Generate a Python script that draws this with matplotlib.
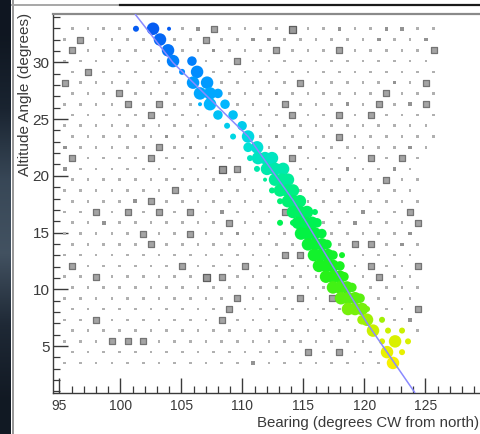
import numpy as np
import matplotlib
matplotlib.use("Agg")
import matplotlib.pyplot as plt
from matplotlib.colors import LinearSegmentedColormap, Normalize
from matplotlib.lines import Line2D
from matplotlib.ticker import MultipleLocator, FixedLocator

plt.rcParams['font.family'] = ['Liberation Sans', 'DejaVu Sans']

# ---- background histogram: lattice of measured (bearing, altitude) cells ----
row_alt = [32.96, 32.01, 31.06, 30.11, 29.16, 28.21, 27.26, 26.31, 25.36, 24.41,
           23.46, 22.51, 21.56, 20.61, 19.66, 18.71, 17.76, 16.81, 15.86, 14.91,
           13.96, 13.01, 12.06, 11.11, 10.16, 9.21, 8.26, 7.31, 6.36, 5.41,
           4.46, 3.51]
even_cols = [96.07, 97.36, 98.64, 99.93, 101.22, 102.51, 103.79, 105.08, 106.37, 107.65,
             108.94, 110.23, 111.51, 112.80, 114.09, 115.38, 116.66, 117.95, 119.24, 120.52,
             121.81, 123.10, 124.38, 125.67]
odd_cols = [95.44, 96.73, 98.01, 99.30, 100.59, 101.88, 103.16, 104.45, 105.74, 107.02,
            108.31, 109.60, 110.88, 112.17, 113.46, 114.75, 116.03, 117.32, 118.61, 119.89,
            121.18, 122.47, 123.75, 125.04]
# cell content per row (0 = empty, 1..4 = increasing counts)
row_counts = [
    "111100012311114112112211",
    "131111011311221111112112",
    "311111011211131113111113",
    "111111100113111111111111",
    "131111100111111111111111",
    "311111110011111311111213",
    "111311110011121111113111",
    "111131311001113111213123",
    "111113111001113113131111",
    "111111111100111111111111",
    "111111211100121113111111",
    "211111312110011211111121",
    "311113111110003111131310",
    "211111111143000111211210",
    "111111111111000111113110",
    "111111131111100111111110",
    "111123111111100111111110",
    "113131313121113001121130",
    "112111111131100011211130",
    "111113113112111001111120",
    "111113111111111001331210",
    "111111111111113300011110",
    "311111131113111100131130",
    "113111111431111110013110",
    "111111111111111110011110",
    "111111111113111313001110",
    "111111111131111111001130",
    "113111111131111111100120",
    "111111111111111111100010",
    "111333111111111111110000",
    "111111111111111313110000",
    "111111111111211111111000",
]

# ---- tracked points along the path (bearing, altitude, count level) ----
track_bearing = [101.28, 102.68, 103.99, 103.25, 103.91, 104.32, 105.87, 105.06, 106.29,
                 105.96, 107.11, 106.53, 107.35, 108.00, 106.53, 107.35, 108.58,
                 108.00, 109.24, 108.75, 109.98, 109.24, 110.47, 110.47, 111.21,
                 110.63, 111.29, 111.86, 112.43, 111.20, 112.02, 112.68, 113.34,
                 111.86, 112.68, 113.25, 113.74, 112.43, 113.09, 113.66, 114.15,
                 113.09, 113.74, 114.23, 114.72, 114.15, 114.72, 115.30, 115.95,
                 113.09, 114.15, 114.56, 115.14, 115.71, 116.12,
                 114.81, 115.38, 115.95, 116.52, 115.38, 115.95, 116.52, 116.94,
                 115.87, 116.45, 117.02, 117.43, 118.17, 116.28, 116.86, 117.43, 118.00,
                 116.86, 117.43, 118.00, 118.33, 117.43, 118.00, 118.57, 118.98,
                 118.09, 118.66, 119.24, 119.65, 118.66, 119.24, 119.81, 120.22,
                 119.81, 120.22, 121.45, 120.71, 121.94, 123.09,
                 121.45, 122.52, 123.58, 121.86, 123.09, 122.35]
track_alt = [32.96, 32.96, 32.96, 32.01, 31.06, 30.11, 30.11, 29.16, 29.16,
             28.21, 28.21, 27.26, 27.26, 27.26, 26.31, 26.31, 26.31,
             25.36, 25.36, 24.41, 24.41, 23.46, 23.46, 22.51, 22.51,
             21.56, 21.56, 21.56, 21.56, 20.61, 20.61, 20.61, 20.61,
             19.66, 19.66, 19.66, 19.66, 18.71, 18.71, 18.71, 18.71,
             17.76, 17.76, 17.76, 17.76, 16.81, 16.81, 16.81, 16.81,
             15.86, 15.86, 15.86, 15.86, 15.86, 15.86,
             14.91, 14.91, 14.91, 14.91, 13.96, 13.96, 13.96, 13.96,
             13.01, 13.01, 13.01, 13.01, 13.01, 12.06, 12.06, 12.06, 12.06,
             11.11, 11.11, 11.11, 11.11, 10.16, 10.16, 10.16, 10.16,
             9.21, 9.21, 9.21, 9.21, 8.26, 8.26, 8.26, 8.26,
             7.31, 7.31, 7.31, 6.36, 6.36, 6.36,
             5.41, 5.41, 5.41, 4.46, 4.46, 3.51]
track_level = [2, 4, 1, 4, 4, 4, 3, 2, 4,
               4, 4, 4, 4, 3, 1, 4, 3,
               3, 3, 2, 3, 2, 4, 3, 4,
               2, 4, 4, 4, 2, 4, 4, 4,
               1, 4, 4, 4, 2, 4, 4, 4,
               2, 4, 4, 4, 4, 4, 4, 2,
               2, 2, 4, 4, 4, 3,
               4, 4, 4, 3, 4, 4, 4, 3,
               4, 4, 4, 3, 2, 4, 4, 4, 3,
               4, 4, 4, 3, 4, 4, 4, 3,
               4, 4, 4, 3, 4, 4, 4, 2,
               3, 4, 2, 4, 2, 2,
               2, 4, 2, 4, 2, 4]

# ---- fitted path ----
fit_bearing = [101.20, 104.32, 110.47, 114.16, 120.22, 124.16]
fit_alt = [34.26, 29.97, 23.47, 17.84, 7.02, 0.86]

x_major = [95, 100, 105, 110, 115, 120, 125]

fig = plt.figure(figsize=(4.81, 4.34), dpi=100)
W, H = 481.0, 434.0

# screen surroundings of the canvas
gax = fig.add_axes([0, 0, 11 / W, 1])
grad = np.array([[0.06, 0.09, 0.13], [0.10, 0.14, 0.19], [0.22, 0.28, 0.34],
                 [0.26, 0.32, 0.38], [0.12, 0.16, 0.21], [0.07, 0.10, 0.14]])
gax.imshow(grad[:, None, :], aspect='auto', interpolation='bilinear', extent=[0, 1, 0, 1])
gax.axis('off')
fig.add_artist(Line2D([12.5 / W, 12.5 / W], [0, 1], color='#8e8e8e', lw=1.3))
fig.add_artist(Line2D([12 / W, 120 / W], [1 - 5 / H, 1 - 5 / H], color='#a0a0a0', lw=1.3))
fig.add_artist(Line2D([120 / W, 1], [1 - 5 / H, 1 - 5 / H], color='#1a1a1a', lw=1.6))

ax = fig.add_axes([53 / W, 41 / H, 447 / W, 379 / H])
ax.set_xlim(94.48, 131.12)
ax.set_ylim(0.86, 34.26)

# background cells
size_px = {1: 2.6, 2: 3.6, 3: 5.5, 4: 7.0}
face = {1: '#b0b0b0', 2: '#939393', 3: '#a4a4a4', 4: '#9a9a9a'}
edge = {1: 'none', 2: 'none', 3: '#747474', 4: '#5e5e5e'}
pts = {lv: ([], []) for lv in (1, 2, 3, 4)}
for r, (alt, counts) in enumerate(zip(row_alt, row_counts)):
    cols = even_cols if r % 2 == 0 else odd_cols
    for b, c in zip(cols, counts):
        lv = int(c)
        if lv:
            pts[lv][0].append(b)
            pts[lv][1].append(alt)
for lv, (bx, ay) in pts.items():
    s = (size_px[lv] * 72 / 100) ** 2
    ax.scatter(bx, ay, s=s, marker='s', c=face[lv], edgecolors=edge[lv],
               linewidths=0.9 if lv >= 3 else 0, zorder=2)

# coloured track points
cmap = LinearSegmentedColormap.from_list('track', [
    (0.00, (0.97, 0.94, 0.00)),
    (0.10, (0.78, 0.94, 0.00)),
    (0.17, (0.42, 0.94, 0.05)),
    (0.27, (0.12, 0.95, 0.10)),
    (0.40, (0.00, 0.95, 0.28)),
    (0.53, (0.00, 0.94, 0.55)),
    (0.65, (0.00, 0.88, 0.85)),
    (0.77, (0.00, 0.72, 1.00)),
    (0.87, (0.00, 0.55, 1.00)),
    (1.00, (0.02, 0.36, 0.95)),
])
norm = Normalize(vmin=3.5, vmax=33.0)
track_px = {1: 4.0, 2: 6.0, 3: 9.5, 4: 12.5}
ts = [(track_px[l] * 72 / 100) ** 2 for l in track_level]
ax.scatter(track_bearing, track_alt, s=ts, c=track_alt, cmap=cmap, norm=norm,
           marker='o', linewidths=0, zorder=3)

ax.plot(fit_bearing, fit_alt, color='#8a8aff', lw=1.1, zorder=4, solid_capstyle='butt')

# axes styling
for side in ('left', 'bottom', 'top', 'right'):
    ax.spines[side].set_color('#3a3a3a')
    ax.spines[side].set_linewidth(1.0)
ax.spines['top'].set_color('#8a8a8a')
ax.spines['top'].set_linewidth(1.6)
ax.xaxis.set_major_locator(FixedLocator(x_major))
ax.xaxis.set_minor_locator(MultipleLocator(1))
ax.yaxis.set_major_locator(MultipleLocator(5))
ax.yaxis.set_minor_locator(MultipleLocator(1))
ax.tick_params(which='major', direction='in', length=11, width=1.0, color='#3a3a3a',
               labelcolor='#3a3a3a')
ax.tick_params(which='minor', direction='in', length=5, width=0.9, color='#3a3a3a')
ax.tick_params(axis='x', which='both', pad=4.5, top=False, labelsize=10)
ax.tick_params(axis='y', which='both', pad=2.5, right=False, labelsize=11)

fig.text(25 / W, 1 - 13 / H, 'Altitude Angle (degrees)', rotation=90, ha='center',
         va='top', fontsize=11, color='#3a3a3a')
fig.text(479 / W, 1 - 423 / H, 'Bearing (degrees CW from north)', ha='right',
         va='center', fontsize=10.8, color='#3a3a3a')

fig.savefig('out.png', dpi=100)
